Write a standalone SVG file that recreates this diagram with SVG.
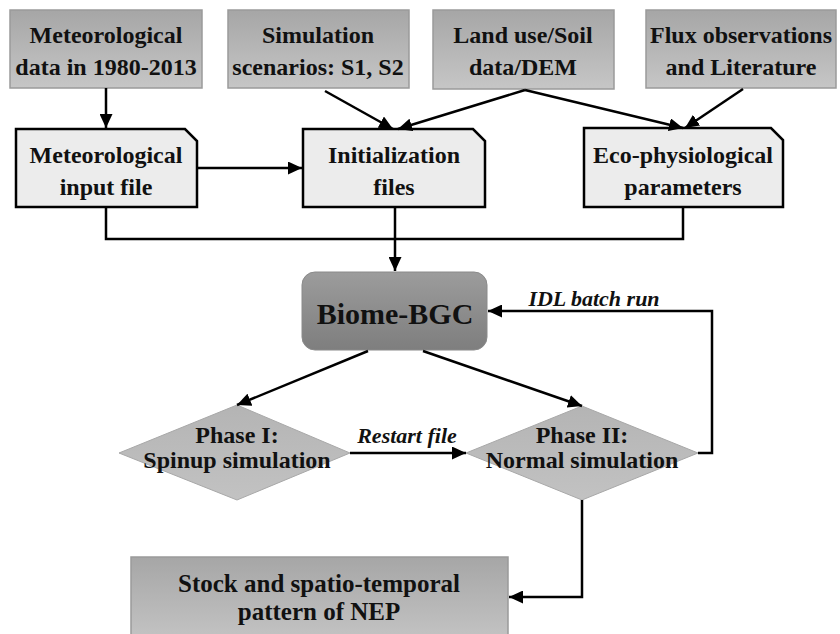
<svg xmlns="http://www.w3.org/2000/svg" width="840" height="634" viewBox="0 0 840 634">
<defs>
<linearGradient id="gTop" x1="0" y1="0" x2="0" y2="1">
<stop offset="0" stop-color="#a6a6a6"/>
<stop offset="1" stop-color="#c6c6c6"/>
</linearGradient>
<linearGradient id="gBiome" x1="0" y1="0" x2="0" y2="1">
<stop offset="0" stop-color="#9c9c9c"/>
<stop offset="1" stop-color="#7e7e7e"/>
</linearGradient>
<linearGradient id="gDia" x1="0" y1="0" x2="0" y2="1">
<stop offset="0" stop-color="#b4b4b4"/>
<stop offset="1" stop-color="#c2c2c2"/>
</linearGradient>
<marker id="arr" markerUnits="userSpaceOnUse" markerWidth="15" markerHeight="13" refX="14" refY="6.5" orient="auto">
<path d="M0,0 L14,6.5 L0,13 z" fill="#000"/>
</marker>
<style>
text{font-weight:bold;fill:#111;text-anchor:middle}
.t24{font-size:24px}
.t25{font-size:25px}
.lab{font-size:22px;font-style:italic}
.src{fill:url(#gTop);stroke:#9a9a9a;stroke-width:1.5}
.file{fill:#ececec;stroke:#000;stroke-width:2.5}
.dia{fill:url(#gDia);stroke:#a8a8a8;stroke-width:1}
.con{fill:none;stroke:#000;stroke-width:2.5}
</style>
</defs>
<g font-family="Liberation Serif, DejaVu Serif, serif">
<g id="met-data">
<rect class="src" x="10" y="10" width="192" height="78"/>
<text class="t24" x="106" y="43">Meteorological</text>
<text class="t24" x="106" y="75">data in 1980-2013</text>
</g>
<g id="sim-scen">
<rect class="src" x="228" y="10" width="181" height="78"/>
<text class="t24" x="318" y="43">Simulation</text>
<text class="t24" x="318" y="75">scenarios: S1, S2</text>
</g>
<g id="land-use">
<rect class="src" x="433" y="10" width="181" height="79"/>
<text class="t24" x="523" y="43">Land use/Soil</text>
<text class="t24" x="523" y="75">data/DEM</text>
</g>
<g id="flux">
<rect class="src" x="646" y="10" width="190" height="78"/>
<text class="t24" x="741" y="43">Flux observations</text>
<text class="t24" x="741" y="75">and Literature</text>
</g>

<g id="met-input">
<path class="file" d="M16,129 H185 L197,141 V207 H16 Z"/>
<text class="t24" x="106" y="163">Meteorological</text>
<text class="t24" x="106" y="195">input file</text>
</g>
<g id="init-files">
<path class="file" d="M303,129 H473 L485,141 V207 H303 Z"/>
<text class="t24" x="394" y="163">Initialization</text>
<text class="t24" x="394" y="195">files</text>
</g>
<g id="eco-params">
<path class="file" d="M584,128 H771 L783,140 V207 H584 Z"/>
<text class="t24" x="683" y="163">Eco-physiological</text>
<text class="t24" x="683" y="195">parameters</text>
</g>

<g id="biome-bgc">
<rect x="302" y="272" width="185" height="78" rx="13" fill="url(#gBiome)" stroke="#8a8a8a" stroke-width="1"/>
<text x="395" y="324" style="font-size:30px">Biome-BGC</text>
</g>

<g id="phase1">
<polygon class="dia" points="237,405 350,453 237,500 119,453"/>
<text class="t24" x="237" y="443">Phase I:</text>
<text class="t24" x="237" y="468">Spinup simulation</text>
</g>
<g id="phase2">
<polygon class="dia" points="582,406 698,453 582,500 466,453"/>
<text class="t24" x="582" y="443">Phase II:</text>
<text class="t24" x="582" y="468">Normal simulation</text>
</g>

<g id="stock-nep">
<rect class="src" x="131" y="557" width="377" height="90"/>
<text class="t25" x="319" y="592">Stock and spatio-temporal</text>
<text class="t25" x="319" y="620">pattern of NEP</text>
</g>

<g id="connectors">
<line class="con" x1="106" y1="88" x2="106" y2="128" marker-end="url(#arr)"/>
<line class="con" x1="325" y1="91" x2="393" y2="129" marker-end="url(#arr)"/>
<line class="con" x1="525" y1="90" x2="398" y2="129" marker-end="url(#arr)"/>
<line class="con" x1="525" y1="90" x2="683" y2="128" marker-end="url(#arr)"/>
<line class="con" x1="743" y1="89" x2="685" y2="128" marker-end="url(#arr)"/>
<line class="con" x1="197" y1="168" x2="302" y2="168" marker-end="url(#arr)"/>
<polyline class="con" points="106,207 106,239 683,239 683,207"/>
<line class="con" x1="395" y1="207" x2="395" y2="271" marker-end="url(#arr)"/>
<line class="con" x1="368" y1="351" x2="237" y2="405" marker-end="url(#arr)"/>
<line class="con" x1="423" y1="351" x2="582" y2="406" marker-end="url(#arr)"/>
<line class="con" x1="350" y1="453" x2="466" y2="453" marker-end="url(#arr)"/>
<polyline class="con" points="698,453 712,453 712,311 488,311" marker-end="url(#arr)"/>
<polyline class="con" points="582,500 582,597 509,597" marker-end="url(#arr)"/>
<text class="lab" x="407" y="443">Restart file</text>
<text class="lab" x="594" y="306">IDL batch run</text>
</g>
</g>
</svg>
